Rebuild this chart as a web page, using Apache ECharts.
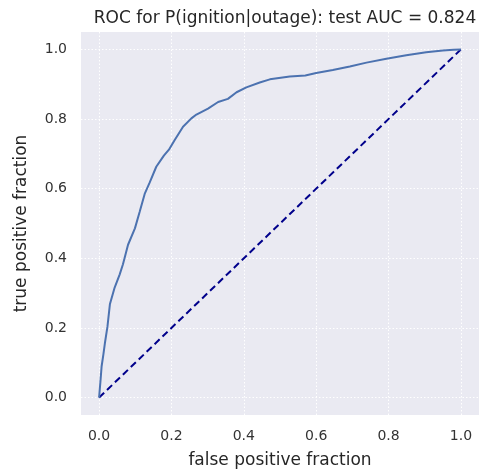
<!DOCTYPE html>
<html>
<head>
<meta charset="utf-8">
<script src="https://cdn.jsdelivr.net/npm/echarts@6/dist/echarts.min.js"></script>
<style>html,body{margin:0;padding:0;background:#fff;}#c{width:486px;height:474px;}</style>
</head>
<body>
<div id="c"></div>
<script>
var fpr = [0, 0.004, 0.007, 0.012, 0.016, 0.023, 0.030, 0.043, 0.057, 0.066, 0.080, 0.099, 0.112, 0.126, 0.140, 0.158, 0.179, 0.193, 0.209, 0.232, 0.255, 0.269, 0.301, 0.329, 0.356, 0.380, 0.407, 0.444, 0.472, 0.527, 0.570, 0.600, 0.646, 0.693, 0.739, 0.794, 0.849, 0.904, 0.950, 0.980, 1.0];
var tpr = [0, 0.05, 0.090, 0.125, 0.156, 0.203, 0.269, 0.316, 0.354, 0.383, 0.439, 0.486, 0.533, 0.585, 0.618, 0.663, 0.695, 0.712, 0.740, 0.778, 0.802, 0.813, 0.830, 0.849, 0.858, 0.877, 0.891, 0.905, 0.914, 0.922, 0.925, 0.932, 0.941, 0.951, 0.962, 0.973, 0.983, 0.992, 0.997, 0.999, 1.0];
var chanceX = [0, 1];
var chanceY = [0, 1];
var tickValues = [0, 0.2, 0.4, 0.6, 0.8, 1.0];
var titleText = 'ROC for P(ignition|outage): test AUC = 0.824';
var xName = 'false positive fraction';
var yName = 'true positive fraction';

var rocData = fpr.map(function (x, i) { return [x, tpr[i]]; });
var chanceData = chanceX.map(function (x, i) { return [x, chanceY[i]]; });
var font = 'DejaVu Sans';
function axisCommon(name, isY) {
  return {
    type: 'value', min: -0.05, max: 1.05,
    name: name, nameLocation: 'middle',
    nameGap: isY ? 51 : 37,
    nameTextStyle: { fontFamily: font, fontSize: 17, color: '#262626' },
    axisLine: { show: false },
    axisTick: { show: false, customValues: tickValues },
    axisLabel: { customValues: tickValues, fontFamily: font, fontSize: 14, color: '#333', margin: isY ? 14 : 14,
      formatter: function (v) { return v.toFixed(1); } },
    splitLine: { show: true, lineStyle: { color: '#ffffff', width: 1, type: [1.5, 2] } }
  };
}
var chart = echarts.init(document.getElementById('c'));
chart.setOption({
  backgroundColor: '#ffffff',
  animation: false,
  title: { text: titleText, left: 280, top: 5, textAlign: 'center',
    textStyle: { fontFamily: font, fontSize: 17, fontWeight: 'normal', color: '#262626' } },
  grid: { left: 81, right: 7, top: 32, bottom: 56, show: true, backgroundColor: '#EAEAF2', borderWidth: 0 },
  xAxis: axisCommon(xName, false),
  yAxis: axisCommon(yName, true),
  series: [
    { type: 'line', data: rocData, showSymbol: false, symbol: 'none',
      lineStyle: { color: '#4C72B0', width: 2 }, z: 3 },
    { type: 'line', data: chanceData, showSymbol: false, symbol: 'none',
      lineStyle: { color: '#00008B', width: 2, type: [7, 4] }, z: 2 }
  ]
});
</script>
</body>
</html>
